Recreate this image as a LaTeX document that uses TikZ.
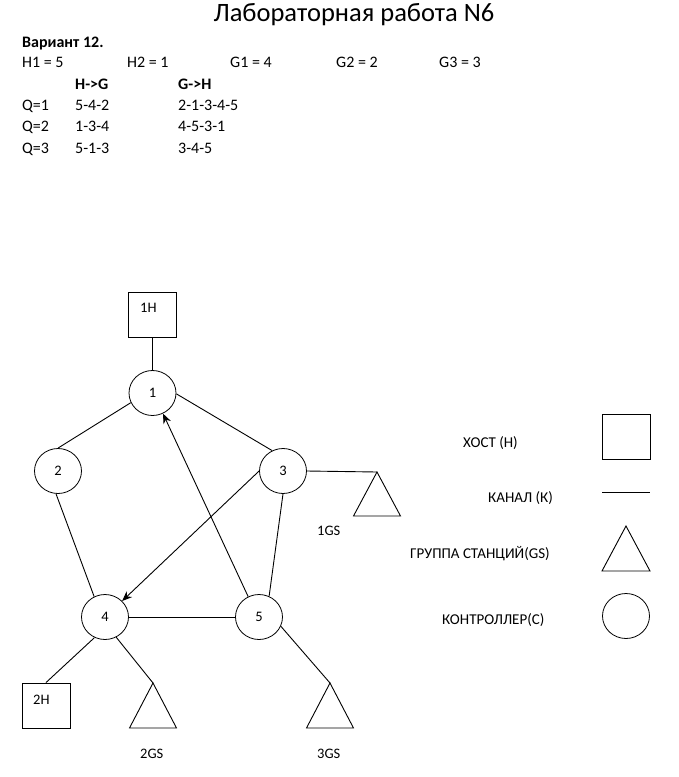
\documentclass[tikz,border=0pt]{standalone}
\usepackage{fontspec}
\setmainfont{Carlito}
\usetikzlibrary{arrows.meta,shapes.geometric}
\begin{document}
\begin{tikzpicture}[x=1pt,y=-1pt,
  txt/.style={font=\fontsize{14.5}{17}\selectfont, inner sep=0pt, anchor=base west},
  htxt/.style={font=\fontsize{16}{19}\selectfont, inner sep=0pt, anchor=base west},
  btxt/.style={htxt, font=\fontsize{16}{19}\selectfont\bfseries},
  ltxt/.style={font=\fontsize{15}{18}\selectfont, inner sep=0pt, anchor=base west},
  ctrl/.style={draw, ellipse, minimum width=47pt, minimum height=45pt, inner sep=0pt, line width=0.8pt, font=\fontsize{14.5}{17}\selectfont},
  hostbox/.style={draw, rectangle, minimum width=48pt, minimum height=45pt, inner sep=0pt, line width=0.9pt},
  link/.style={line width=0.9pt},
  arr/.style={line width=0.9pt, -{Stealth[length=10pt,width=8pt]}},
  gs/.style={line width=0.9pt}
]
\useasboundingbox (0,0) rectangle (679,777);

% header
\node[font=\fontsize{26.5}{31}\selectfont, inner sep=0pt, anchor=base] (title) at (354,21) {Лабораторная работа N6};
\node[btxt] (var) at (22,47) {Вариант 12.};
\node[htxt] (h1) at (22,67) {H1 = 5};
\node[htxt] (h2) at (127,67) {H2 = 1};
\node[htxt] (g1) at (230,67) {G1 = 4};
\node[htxt] (g2) at (336,67) {G2 = 2};
\node[htxt] (g3) at (439,67) {G3 = 3};
\node[btxt] (hg) at (75,89) {H->G};
\node[btxt] (gh) at (178,89) {G->H};
\node[htxt] (q1) at (22,110) {Q=1};
\node[htxt] (q1a) at (75,110) {5-4-2};
\node[htxt] (q1b) at (178,110) {2-1-3-4-5};
\node[htxt] (q2) at (22,131) {Q=2};
\node[htxt] (q2a) at (75,131) {1-3-4};
\node[htxt] (q2b) at (178,131) {4-5-3-1};
\node[htxt] (q3) at (22,153) {Q=3};
\node[htxt] (q3a) at (75,153) {5-1-3};
\node[htxt] (q3b) at (178,153) {3-4-5};

% hosts
\node[hostbox] (hb1) at (152.5,314.5) {};
\node[txt] (hl1) at (140,312) {1H};
\node[hostbox] (hb2) at (46,705.5) {};
\node[txt] (hl2) at (33,704) {2H};

% controllers
\node[ctrl] (c1) at (152.5,393) {1};
\node[ctrl] (c2) at (58,471) {2};
\node[ctrl] (c3) at (283,471) {3};
\node[ctrl] (c4) at (105,617) {4};
\node[ctrl] (c5) at (259,617) {5};

% station groups
\coordinate (gs1) at (377,472);
\coordinate (gs2) at (153,683);
\coordinate (gs3) at (330,683);
\draw[gs] (gs1) -- ++(23.5,44) -- ++(-47,0) -- cycle;
\draw[gs] (gs2) -- ++(23.5,45) -- ++(-47,0) -- cycle;
\draw[gs] (gs3) -- ++(23.5,45) -- ++(-47,0) -- cycle;
\node[txt] (gl1) at (317,535) {1GS};
\node[txt] (gl2) at (140,758) {2GS};
\node[txt] (gl3) at (317,758) {3GS};

% links
\draw[link] (hb1.south) -- (c1.north);
\draw[link] (c1.204) -- (c2.90);
\draw[link] (c1.-2) -- (c3.118);
\draw[link] (c2.265) -- (c4.118);
\draw[link] (c3.270) -- (c5.64);
\draw[link] (c4.east) -- (c5.west);
\draw[link] (c3.east) -- (gs1);
\draw[link] (c4.243) -- (hb2.north);
\draw[link] (c4.299) -- (gs2);
\draw[link] (c5.-23) -- (gs3);
\draw[arr] (c5.118) -- (c1.-63);
\draw[arr] (c3.180) -- (c4.43);

% legend
\node[hostbox] (lh) at (626,436.5) {};
\node[ltxt] (lht) at (463,447) {ХОСТ (H)};
\coordinate (lk1) at (602,492);
\coordinate (lk2) at (650,492);
\draw[link] (lk1) -- (lk2);
\node[ltxt] (lkt) at (488,502) {КАНАЛ (К)};
\coordinate (lg) at (626,526);
\draw[gs] (lg) -- ++(24,45) -- ++(-48,0) -- cycle;
\node[ltxt] (lgt) at (410,558) {ГРУППА СТАНЦИЙ(GS)};
\node[ctrl] (lc) at (626,616) {};
\node[ltxt] (lct) at (442,624) {КОНТРОЛЛЕР(С)};
\end{tikzpicture}
\end{document}
